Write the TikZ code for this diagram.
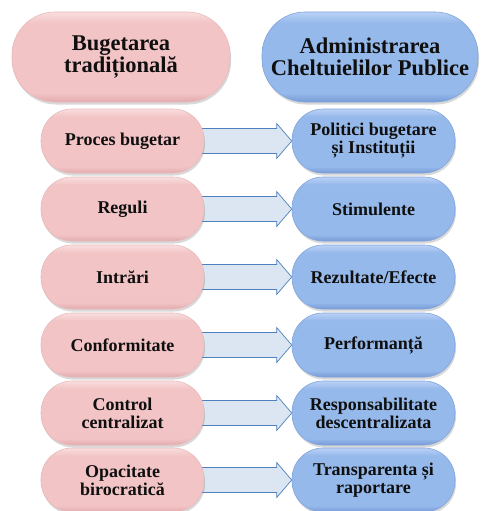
\documentclass[tikz,border=0pt]{standalone}
\usepackage{fontspec}
\setmainfont{Liberation Serif}
\usetikzlibrary{shadows,calc,backgrounds}
\definecolor{pinkfill}{RGB}{242,196,198}
\definecolor{pinktop}{RGB}{249,222,222}
\definecolor{pinkbot}{RGB}{226,170,172}
\definecolor{pinkedge}{RGB}{234,186,188}
\definecolor{bluefill}{RGB}{150,185,235}
\definecolor{bluetop}{RGB}{186,210,246}
\definecolor{bluebot}{RGB}{118,155,214}
\definecolor{blueedge}{RGB}{128,164,220}
\definecolor{arrowfill}{RGB}{220,230,242}
\definecolor{arrowedge}{RGB}{79,129,189}
\definecolor{textcol}{RGB}{15,15,15}
% flat body with a light top rim and a darker bottom rim
\pgfdeclareverticalshading{pinkpill}{100bp}{color(0bp)=(pinkbot); color(25bp)=(pinkbot);
  color(30bp)=(pinkfill); color(69bp)=(pinkfill); color(75bp)=(pinktop); color(100bp)=(pinktop)}
\pgfdeclareverticalshading{bluepill}{100bp}{color(0bp)=(bluebot); color(25bp)=(bluebot);
  color(30bp)=(bluefill); color(69bp)=(bluefill); color(75bp)=(bluetop); color(100bp)=(bluetop)}
\tikzset{
  pill/.style={rectangle, rounded corners=31pt, align=center, font=\bfseries,
    text=textcol, line width=0.6pt, inner sep=2pt,
    drop shadow={shadow xshift=1pt, shadow yshift=-2.5pt, opacity=0.25, fill=black!60}},
  oldbox/.style={pill, draw=pinkedge, shading=pinkpill},
  newbox/.style={pill, draw=blueedge, shading=bluepill},
  header/.style={minimum height=90pt, font=\bfseries\fontsize{22.5}{22}\selectfont, rounded corners=43pt},
  rowbox/.style={minimum width=163pt, minimum height=64pt, font=\bfseries\fontsize{18}{18}\selectfont},
  blockarrow/.style={draw=arrowedge, fill=arrowfill, line width=0.7pt, line join=miter}
}
\begin{document}
\begin{tikzpicture}[x=1pt, y=-1pt]
\useasboundingbox (0,0) rectangle (484,511);

% column headers
\node[oldbox, header, minimum width=218pt] (hl) at (121,57) {Bugetarea\\tradițională};
\node[newbox, header, minimum width=216pt] (hr) at (370,57) {Administrarea\\Cheltuielilor Publice};

% paired rows
\foreach \i/\y/\ltext/\rtext in {
  1/141/{Proces bugetar}/{Politici bugetare\\ și Instituții},
  2/209/{Reguli}/{Stimulente},
  3/277/{Intrări}/{Rezultate/Efecte},
  4/345/{Conformitate}/{Performanță},
  5/413/{Control\\centralizat}/{Responsabilitate\\descentralizata},
  6/480/{Opacitate\\birocratică}/{Transparenta și\\raportare}}{
  \node[oldbox, rowbox] (l\i) at (122.5,\y) {\ltext};
  \node[newbox, rowbox] (r\i) at (373.5,\y) {\rtext};
}

% white page and block arrows, kept behind the boxes
\begin{pgfonlayer}{background}
\fill[white] (0,0) rectangle (484,511);
\foreach \i in {1,...,6}{
  \draw[blockarrow]
    ($(l\i.east)+(-4,-12.5)$) -- ($(r\i.west)+(-15,-12.5)$) -- ($(r\i.west)+(-15,-17.5)$)
    -- (r\i.west) -- ($(r\i.west)+(-15,17.5)$) -- ($(r\i.west)+(-15,12.5)$)
    -- ($(l\i.east)+(-4,12.5)$) -- cycle;
}
\end{pgfonlayer}
\end{tikzpicture}
\end{document}
